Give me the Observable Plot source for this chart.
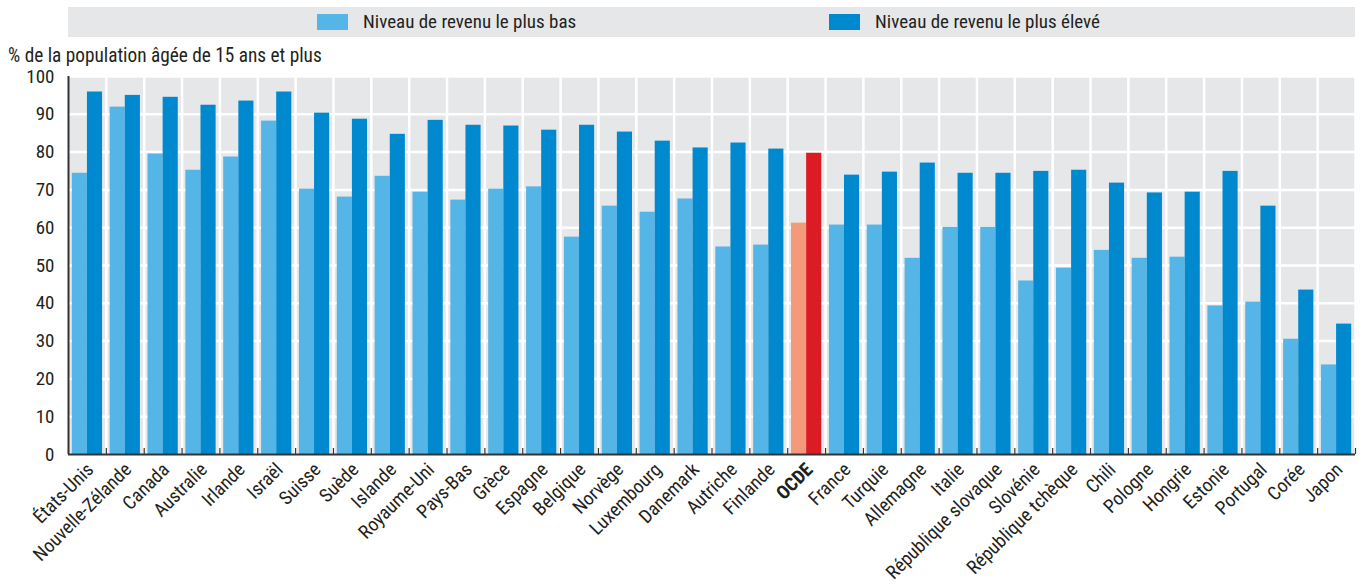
<!DOCTYPE html>
<html>
<head>
<meta charset="utf-8">
<script src="https://cdn.jsdelivr.net/npm/d3@7"></script>
<script src="https://cdn.jsdelivr.net/npm/@observablehq/plot@0.6"></script>
<style>
  html, body { margin: 0; padding: 0; background: #fff; }
  body { width: 1362px; height: 585px; position: relative; overflow: hidden;
         font-family: "Liberation Sans Narrow", "Arial Narrow", "Roboto Condensed", "DejaVu Sans Condensed", sans-serif;
         color: #231f20; }
  #header { position: relative; height: 62px; }
  #legend { position: absolute; left: 68px; top: 7px; width: 1287px; height: 30px; background: #e6e7e9; }
  .sw { position: absolute; top: 7px; width: 31px; height: 16px; }
  .lt { position: absolute; top: 4px; font-size: 19px; line-height: 22px; white-space: nowrap; }
  #ytitle { position: absolute; left: 8px; top: 45px; font-size: 19.3px; line-height: 22px; white-space: nowrap; }
  #chart svg { display: block; }
</style>
</head>
<body>
<div id="header">
  <div id="legend">
    <div class="sw" style="left:249px;background:#55b5e6"></div>
    <div class="lt" style="left:295px">Niveau de revenu le plus bas</div>
    <div class="sw" style="left:761px;background:#0089cf"></div>
    <div class="lt" style="left:807px">Niveau de revenu le plus élevé</div>
  </div>
  <div id="ytitle">% de la population âgée de 15 ans et plus</div>
</div>
<div id="chart"></div>
<script>
const countries = ["États-Unis","Nouvelle-Zélande","Canada","Australie","Irlande","Israël","Suisse","Suède","Islande","Royaume-Uni","Pays-Bas","Grèce","Espagne","Belgique","Norvège","Luxembourg","Danemark","Autriche","Finlande","OCDE","France","Turquie","Allemagne","Italie","République slovaque","Slovénie","République tchèque","Chili","Pologne","Hongrie","Estonie","Portugal","Corée","Japon"];
const lowIncome  = [74.4,91.9,79.5,75.2,78.7,88.2,70.2,68.1,73.6,69.4,67.3,70.2,70.8,57.5,65.7,64.1,67.6,54.9,55.4,61.2,60.7,60.7,51.9,60.1,60.1,45.9,49.3,54.0,51.9,52.2,39.3,40.3,30.5,23.7];
const highIncome = [95.9,95.0,94.5,92.4,93.5,95.9,90.3,88.7,84.7,88.4,87.1,86.9,85.8,87.1,85.3,82.9,81.1,82.4,80.8,79.7,73.9,74.7,77.1,74.4,74.4,74.9,75.2,71.8,69.2,69.4,74.9,65.7,43.5,34.5];
const yTicks = [0,10,20,30,40,50,60,70,80,90,100];
const highlight = "OCDE";

const W = 1362, H = 523, mL = 68, mR = 7, mT = 14, mB = 131;
const bw = (W - mL - mR) / countries.length;
const gap = 3.8;

const rows = countries.map((c, i) => ({country: c, low: lowIncome[i], high: highIncome[i]}));
const font = '"Liberation Sans Narrow", "Arial Narrow", "Roboto Condensed", "DejaVu Sans Condensed", sans-serif';

const chart = Plot.plot({
  width: W, height: H,
  marginLeft: mL, marginRight: mR, marginTop: mT, marginBottom: mB,
  style: {fontFamily: font, fontSize: "19px", color: "#231f20", background: "white"},
  x: {type: "band", domain: countries, padding: 0, round: false, axis: null},
  y: {domain: [0, 100], ticks: yTicks, axis: null},
  marks: [
    Plot.frame({fill: "#e6e7e9", stroke: null}),
    Plot.ruleY(yTicks.filter(d => d > 0), {y: d => d, stroke: "white", strokeWidth: 2.5}),
    Plot.ruleX(countries, {x: d => d, dx: bw / 2, stroke: "white", strokeWidth: 2.5}),
    Plot.barY(rows, {x: "country", y: "low", fill: d => d.country === highlight ? "#f4997a" : "#55b5e6",
      insetLeft: gap, insetRight: bw / 2}),
    Plot.barY(rows, {x: "country", y: "high", fill: d => d.country === highlight ? "#dc1c24" : "#0089cf",
      insetLeft: bw / 2, insetRight: gap}),
    Plot.ruleX(countries, {x: d => d, dx: bw / 2, y1: 0, y2: 1.6, stroke: "#333", strokeWidth: 1.2}),
    Plot.tickY(yTicks, {y: d => d, x: countries[0], insetRight: bw - 7, stroke: "#333", strokeWidth: 1.2}),
    Plot.ruleX([countries[0]], {x: d => d, dx: -bw / 2, stroke: "#333", strokeWidth: 2}),
    Plot.ruleY([0], {stroke: "#333", strokeWidth: 2}),
    Plot.axisY({ticks: yTicks, tickSize: 0, tickPadding: 14, fontSize: 19, label: null, color: "#231f20"}),
    Plot.text(countries.filter(d => d !== highlight), {x: d => d, y: 0, text: d => d, rotate: -45, textAnchor: "end",
      dx: 3, dy: 12, fontSize: 19, fill: "#231f20"}),
    Plot.text([highlight], {x: d => d, y: 0, text: d => d, rotate: -45, textAnchor: "end",
      dx: 3, dy: 12, fontSize: 19, fontWeight: "bold", fill: "#231f20"})
  ]
});
document.getElementById("chart").appendChild(chart);
</script>
</body>
</html>
